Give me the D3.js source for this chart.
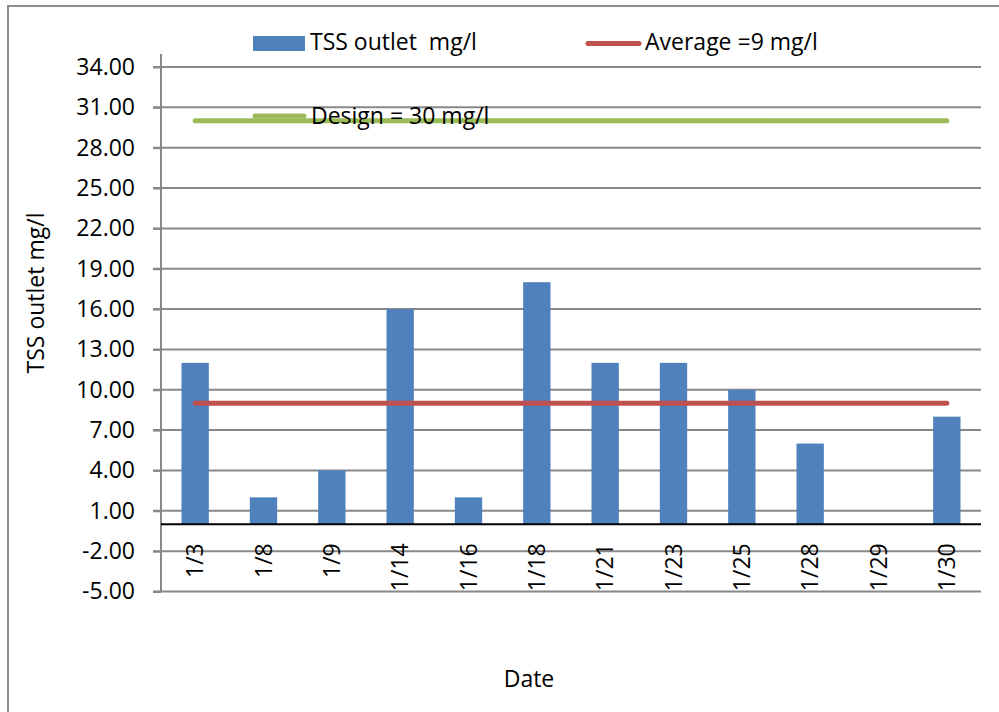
<!DOCTYPE html>
<html>
<head>
<meta charset="utf-8">
<script src="https://cdn.jsdelivr.net/npm/d3@7"></script>
<style>
    body { margin: 0; background: #fff; }
    text { font-family: 'Open Sans', sans-serif; font-size: 23px; fill: #000; white-space: pre; }
</style>
</head>
<body>
<script>
// chart data
const dates = ['1/3', '1/8', '1/9', '1/14', '1/16', '1/18', '1/21', '1/23', '1/25', '1/28', '1/29', '1/30']
const tssOutlet = [12, 2, 4, 16, 2, 18, 12, 12, 10, 6, 0, 8]
const averageSeries = [9, 9, 9, 9, 9, 9, 9, 9, 9, 9, 9, 9]
const designSeries = [30, 30, 30, 30, 30, 30, 30, 30, 30, 30, 30, 30]
const yTicks = [-5, -2, 1, 4, 7, 10, 13, 16, 19, 22, 25, 28, 31, 34]

const width = 999
const height = 712

const svg = d3.select('body').append('svg')
    .attr('width', width)
    .attr('height', height)

// outer chart border
svg.append('rect')
    .attr('x', 8)
    .attr('y', 6)
    .attr('width', width + 20)
    .attr('height', height + 20)
    .attr('fill', 'none')
    .attr('stroke', '#8c8c8c')
    .attr('stroke-width', 2)

const left = 161, right = 981

const x = d3.scaleBand()
    .domain(dates)
    .range([left, right])
    .paddingInner(0.6)
    .paddingOuter(0.3)

const y = d3.scaleLinear()
    .domain([-5, 34])
    .range([591.5, 67])

// gridlines
svg.append('g').selectAll('line')
    .data(yTicks)
    .enter()
    .append('line')
    .attr('x1', left - 8)
    .attr('x2', right)
    .attr('y1', d => y(d))
    .attr('y2', d => y(d))
    .attr('stroke', '#888')
    .attr('stroke-width', 2)

// y axis (plain hyphen for negatives, like the original)
const fmt = d => d.toFixed(2)
const yAxis = svg.append('g')
    .attr('transform', `translate(${left},0)`)
    .call(d3.axisLeft(y).tickValues(yTicks).tickFormat(fmt).tickSize(8).tickPadding(18))
yAxis.select('.domain').remove()
yAxis.selectAll('.tick line').attr('stroke', '#888').attr('stroke-width', 2)
yAxis.selectAll('.tick text')
    .style('font-family', "'Open Sans', sans-serif")
    .style('font-size', '23px')
    .attr('fill', '#000')

svg.append('line')
    .attr('x1', left)
    .attr('x2', left)
    .attr('y1', 54)
    .attr('y2', y(-5))
    .attr('stroke', '#888')
    .attr('stroke-width', 2)

// bars
svg.append('g').selectAll('rect')
    .data(tssOutlet)
    .enter()
    .append('rect')
    .attr('x', (d, i) => x(dates[i]))
    .attr('y', d => y(d))
    .attr('width', x.bandwidth())
    .attr('height', d => y(0) - y(d))
    .attr('fill', '#4F81BD')

// zero line
svg.append('line')
    .attr('x1', left)
    .attr('x2', right)
    .attr('y1', y(0))
    .attr('y2', y(0))
    .attr('stroke', '#000')
    .attr('stroke-width', 2)

// x labels
svg.append('g').selectAll('text')
    .data(dates)
    .enter()
    .append('text')
    .text(d => d)
    .attr('transform', d => `translate(${x(d) + x.bandwidth() / 2},${y(0) + 19}) rotate(-90)`)
    .attr('text-anchor', 'end')
    .attr('dy', '0.35em')

// average and design lines
const line = d3.line()
    .x((d, i) => x(dates[i]) + x.bandwidth() / 2)
    .y(d => y(d))

svg.append('path')
    .datum(designSeries)
    .attr('d', line)
    .attr('fill', 'none')
    .attr('stroke', '#9BBB59')
    .attr('stroke-width', 5)
    .attr('stroke-linecap', 'round')

svg.append('path')
    .datum(averageSeries)
    .attr('d', line)
    .attr('fill', 'none')
    .attr('stroke', '#C0504D')
    .attr('stroke-width', 5)
    .attr('stroke-linecap', 'round')

// legend
svg.append('rect')
    .attr('x', 253)
    .attr('y', 36)
    .attr('width', 52)
    .attr('height', 15)
    .attr('fill', '#4F81BD')
svg.append('text').text('TSS outlet  mg/l').attr('x', 310).attr('y', 50)

svg.append('line')
    .attr('x1', 588).attr('x2', 639)
    .attr('y1', 43.5).attr('y2', 43.5)
    .attr('stroke', '#C0504D')
    .attr('stroke-width', 5)
    .attr('stroke-linecap', 'round')
svg.append('text').text('Average =9 mg/l').attr('x', 645).attr('y', 50)

svg.append('line')
    .attr('x1', 255).attr('x2', 304)
    .attr('y1', 116).attr('y2', 116)
    .attr('stroke', '#9BBB59')
    .attr('stroke-width', 5)
    .attr('stroke-linecap', 'round')
svg.append('text').text('Design = 30 mg/l').attr('x', 311).attr('y', 124)

// axis titles
svg.append('text')
    .text('TSS outlet mg/l')
    .attr('transform', 'translate(44,293) rotate(-90)')
    .attr('text-anchor', 'middle')

svg.append('text')
    .text('Date')
    .attr('x', 529)
    .attr('y', 687)
    .attr('text-anchor', 'middle')
</script>
</body>
</html>
